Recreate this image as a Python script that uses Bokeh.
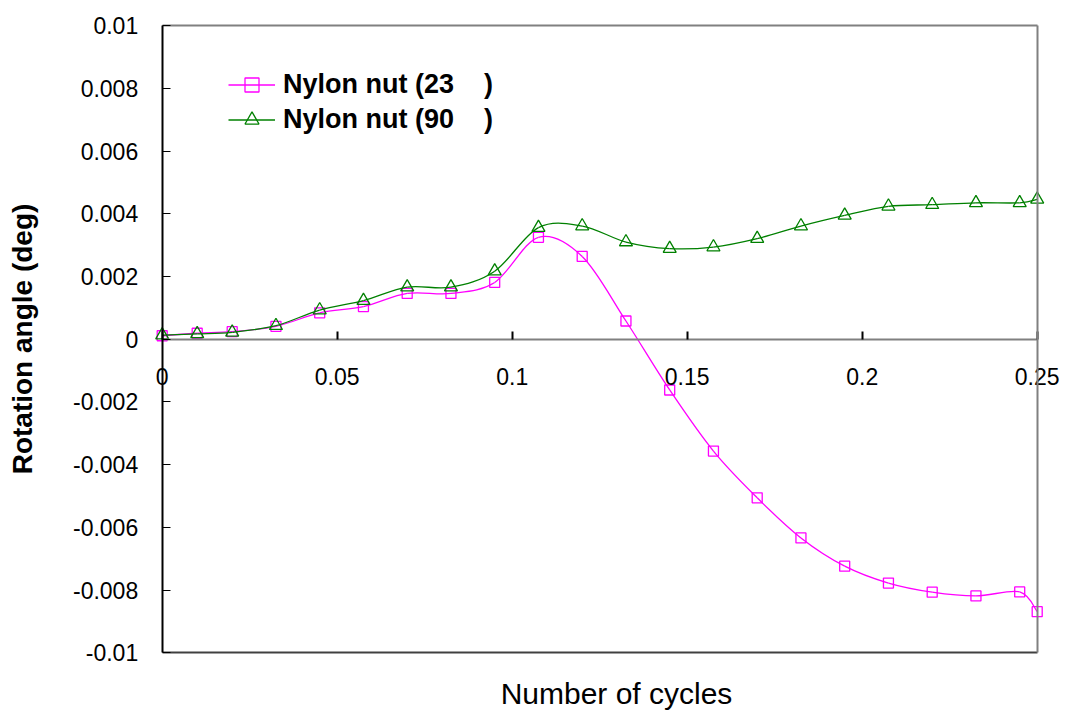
from bokeh.plotting import figure
from bokeh.models import (FixedTicker, CustomJSTickFormatter, Legend, LegendItem, Label,
                          LinearAxis, ColumnDataSource, Range1d)
from bokeh.embed import file_html
from bokeh.resources import INLINE

# ---- data ----
cycles = [0, 0.01, 0.02, 0.0325, 0.045, 0.0575, 0.07, 0.0825, 0.095, 0.1075, 0.12,
          0.1325, 0.145, 0.1575, 0.17, 0.1825, 0.195, 0.2075, 0.22, 0.2325, 0.245, 0.25]
nut_23 = [0.00011, 0.00019, 0.00024, 0.00041, 0.00084, 0.00104, 0.00146, 0.00146, 0.00181, 0.00325, 0.00264,
          0.00058, -0.00162, -0.00357, -0.00506, -0.00634, -0.00724, -0.00778, -0.00807, -0.00819, -0.00806, -0.00869]
nut_90 = [0.00013, 0.00017, 0.00022, 0.00043, 0.00093, 0.00123, 0.00166, 0.00166, 0.00217, 0.00356, 0.00361,
          0.0031, 0.00289, 0.00294, 0.00321, 0.00361, 0.00395, 0.00424, 0.00429, 0.00435, 0.00435, 0.00446]
x_ticks = [0, 0.05, 0.1, 0.15, 0.2, 0.25]
y_ticks = [-0.01, -0.008, -0.006, -0.004, -0.002, 0, 0.002, 0.004, 0.006, 0.008, 0.01]
x_min, x_max = 0, 0.25
y_min, y_max = -0.01, 0.01
label_23 = "Nylon nut (23\u00a0\u00a0\u00a0\u00a0)"
label_90 = "Nylon nut (90\u00a0\u00a0\u00a0\u00a0)"
x_title = "Number of cycles"
y_title = "Rotation angle (deg)"

FONT = "Liberation Sans"
PINK = "#FF00FF"
GREEN = "#008000"

W, H = 1065, 713
# plot box in pixels (left, right, top, bottom) -> ranges that span the whole canvas
BOX_L, BOX_R, BOX_T, BOX_B = 161.7, 1036.7, 25.2, 652.2
sx = (BOX_R - BOX_L) / (x_max - x_min)
sy = (BOX_B - BOX_T) / (y_max - y_min)
xr = Range1d(x_min - BOX_L / sx, x_max + (W - BOX_R) / sx)
yr = Range1d(y_min - (H - BOX_B) / sy, y_max + BOX_T / sy)


def smooth_segments(xs, ys):
    """Bezier control points (Catmull-Rom style smoothing) between consecutive data points."""
    n = len(xs)
    d = dict(x0=[], y0=[], x1=[], y1=[], cx0=[], cy0=[], cx1=[], cy1=[])
    for i in range(n - 1):
        im = max(i - 1, 0)
        ip2 = min(i + 2, n - 1)
        d["x0"].append(xs[i]); d["y0"].append(ys[i])
        d["x1"].append(xs[i + 1]); d["y1"].append(ys[i + 1])
        d["cx0"].append(xs[i] + (xs[i + 1] - xs[im]) / 6.0)
        d["cy0"].append(ys[i] + (ys[i + 1] - ys[im]) / 6.0)
        d["cx1"].append(xs[i + 1] - (xs[ip2] - xs[i]) / 6.0)
        d["cy1"].append(ys[i + 1] - (ys[ip2] - ys[i]) / 6.0)
    return ColumnDataSource(d)


p = figure(width=W, height=H, output_backend="svg", toolbar_location=None,
           x_range=xr, y_range=yr,
           min_border_left=0, min_border_right=0, min_border_top=0, min_border_bottom=0)
p.grid.visible = False
p.background_fill_color = "white"
p.border_fill_color = "white"
p.outline_line_color = None

blank = CustomJSTickFormatter(code="return '';")

# x axis crossing at y = 0
xa = p.xaxis[0]
xa.fixed_location = 0
xa.bounds = (x_min, x_max)
xa.ticker = FixedTicker(ticks=x_ticks)
xa.formatter = CustomJSTickFormatter(code="return tick.toString();")
xa.axis_line_color = "#808080"
xa.axis_line_width = 2
xa.major_tick_in = 8
xa.major_tick_out = 0
xa.major_tick_line_color = "black"
xa.major_tick_line_width = 2
xa.minor_tick_line_color = None
xa.major_label_text_font = FONT
xa.major_label_text_font_size = "23px"
xa.major_label_text_color = "black"
xa.major_label_standoff = 29

# y axis at x = 0
ya = p.yaxis[0]
ya.fixed_location = 0
ya.bounds = (y_min, y_max)
ya.ticker = FixedTicker(ticks=y_ticks)
ya.formatter = CustomJSTickFormatter(code="return tick.toString();")
ya.axis_line_color = "black"
ya.axis_line_width = 2
ya.major_tick_in = 8
ya.major_tick_out = 0
ya.major_tick_line_color = "black"
ya.major_tick_line_width = 1
ya.minor_tick_line_color = None
ya.major_label_text_font = FONT
ya.major_label_text_font_size = "23px"
ya.major_label_text_color = "black"
ya.major_label_standoff = 24
ya.axis_label = y_title
ya.axis_label_text_font = FONT
ya.axis_label_text_font_style = "bold"
ya.axis_label_text_font_size = "28px"
ya.axis_label_text_color = "black"
ya.axis_label_standoff = 32


def border_axis(side, loc, bounds, color):
    ax = LinearAxis(fixed_location=loc, bounds=bounds, ticker=FixedTicker(ticks=[]),
                    formatter=blank, axis_line_color=color, axis_line_width=2,
                    major_tick_line_color=None, minor_tick_line_color=None,
                    major_label_text_font_size="0px")
    p.add_layout(ax, side)


border_axis("above", y_max, (x_min, x_max), "#808080")
border_axis("below", y_min, (x_min, x_max), "#404040")
border_axis("right", x_max, (y_min, y_max), "#808080")

p.add_layout(Label(x=616, y=H - 693, x_units="screen", y_units="screen", text=x_title,
                   text_align="center", text_baseline="middle", text_font=FONT,
                   text_font_size="30px", text_color="black"))

src23 = smooth_segments(cycles, nut_23)
src90 = smooth_segments(cycles, nut_90)

b23 = p.bezier(x0="x0", y0="y0", x1="x1", y1="y1", cx0="cx0", cy0="cy0", cx1="cx1", cy1="cy1",
               source=src23, line_color=PINK, line_width=1.3)
s23 = p.scatter(cycles, nut_23, marker="square", size=10, fill_color=None,
                line_color=PINK, line_width=1.3)
b90 = p.bezier(x0="x0", y0="y0", x1="x1", y1="y1", cx0="cx0", cy0="cy0", cx1="cx1", cy1="cy1",
               source=src90, line_color=GREEN, line_width=1.3)
s90 = p.scatter(cycles, nut_90, marker="triangle", size=13, fill_color=None,
                line_color=GREEN, line_width=1.3)

legend = Legend(items=[LegendItem(label=label_23, renderers=[b23, s23]),
                       LegendItem(label=label_90, renderers=[b90, s90])],
                location=(228, H - 137), padding=0, margin=0, spacing=0,
                glyph_width=47, glyph_height=35, label_height=35, label_standoff=8,
                label_text_font=FONT, label_text_font_size="27px", label_text_font_style="bold",
                label_text_color="black", border_line_color=None, background_fill_alpha=0)
p.add_layout(legend, "center")

open("out.html", "w").write(file_html(p, INLINE))
